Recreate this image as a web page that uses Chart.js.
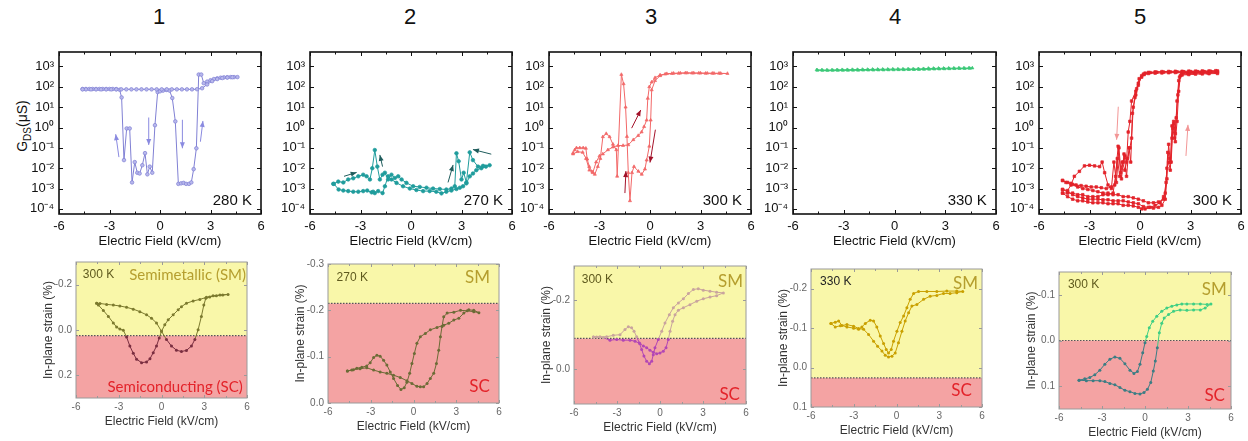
<!DOCTYPE html>
<html>
<head>
<meta charset="utf-8">
<script src="https://cdn.jsdelivr.net/npm/chart.js@4.4.1/dist/chart.umd.min.js"></script>
<style>
  body { margin: 0; background: #fff; }
  #wrap { position: relative; width: 1248px; height: 441px; overflow: hidden; font-family: 'Liberation Sans', Arial, sans-serif; }
  .num { position: absolute; top: 4px; width: 40px; margin-left: -20px; text-align: center; font-size: 22px; color: #111; }
  .ylab { position: absolute; left: -28px; top: 116px; width: 100px; height: 20px; line-height: 20px; text-align: center; font-size: 14px; color: #111; transform: rotate(-90deg); white-space: nowrap; }
  .ylab sub { font-size: 10px; }
  canvas { position: absolute; }
</style>
</head>
<body>
<div id="wrap">
  <div class="num" style="left:159px">1</div>
  <div class="num" style="left:410px">2</div>
  <div class="num" style="left:651px">3</div>
  <div class="num" style="left:895px">4</div>
  <div class="num" style="left:1140px">5</div>
  <div class="ylab">G<sub>DS</sub>(μS)</div>
</div>
<script>
Chart.defaults.font.family = "'Liberation Sans', Arial, sans-serif";

// ---- axes / labels ----
const xTicks = [-6, -3, 0, 3, 6];
const logTicks = [1e-4, 1e-3, 1e-2, 1e-1, 1, 10, 100, 1000];
const topTemps = ['280 K', '270 K', '300 K', '330 K', '300 K'];
const bottomTemps = ['300 K', '270 K', '300 K', '330 K', '300 K'];
const b1Ticks = [-0.2, 0, 0.2];
const b2Ticks = [-0.3, -0.2, -0.1, 0];
const b3Ticks = [-0.2, 0];
const b4Ticks = [-0.2, -0.1, 0, 0.1];
const b5Ticks = [-0.1, 0, 0.1];
const smScBoundary = [0.025, -0.215, -0.09, 0.026, 0];

// ---- G_DS (uS) vs electric field (kV/cm) ----
const g1 = [[-4.6,78],[-4.4,78],[-4.2,78],[-4.0,78],[-3.8,78],[-3.6,78],[-3.4,78],[-3.2,78],[-3.0,78],[-2.8,78],[-2.6,77],[-2.4,72],
  [-2.28,30],[-2.14,0.025],[-1.98,0.9],[-1.80,0.9],[-1.66,0.002],[-1.50,0.02],[-1.35,0.006],[-1.21,0.0055],[-1.05,0.014],[-0.89,0.055],
  [-0.75,0.005],[-0.61,0.012],[-0.46,0.006],[-0.30,1.3],[-0.14,55],[0.0,60],[0.18,65],[0.38,70],[0.57,65],[0.73,28],[0.91,2],
  [1.09,0.0017],[1.25,0.0018],[1.40,0.0019],[1.55,0.0017],[1.72,0.0017],[1.86,0.002],[2.0,0.009],[2.16,0.095],[2.30,400],[2.45,400],
  [2.6,150],[2.8,180],[3.0,210],[3.2,240],[3.4,260],[3.6,280],[3.8,290],[4.0,295],[4.2,300],[4.4,300],[4.6,300],
  [4.3,295],[4.0,285],[3.7,270],[3.4,240],[3.1,190],[2.8,130],[2.5,85],[2.2,76],[1.9,75],[1.6,75],[1.3,75],[1.0,75],[0.7,75],
  [0.4,75],[0.1,75],[-0.2,75],[-0.5,75],[-0.8,75],[-1.1,75],[-1.4,75],[-1.7,75],[-2.0,75],[-2.3,75],[-2.6,75],[-2.9,75],[-3.2,75],
  [-3.5,75],[-3.8,75],[-4.1,75],[-4.4,75],[-4.6,75]];
const g2 = [[-4.62,0.0017],[-4.32,0.0022],[-4.02,0.002],[-3.73,0.0028],[-3.43,0.0032],[-3.13,0.004],[-2.84,0.0048],[-2.64,0.004],
  [-2.44,0.0028],[-2.30,0.01],[-2.15,0.078],[-2.0,0.012],[-1.85,0.0028],[-1.69,0.0048],[-1.55,0.006],[-1.36,0.0028],[-1.16,0.0048],
  [-0.96,0.0033],[-0.76,0.004],[-0.56,0.0028],[-0.27,0.0019],[0.13,0.0013],[0.52,0.0012],[0.92,0.0011],[1.31,0.001],[1.71,0.00095],
  [2.1,0.0009],[2.4,0.001],[2.6,0.0013],[2.70,0.054],[2.83,0.022],[3.0,0.0028],[3.13,0.006],[3.29,0.002],[3.49,0.06],[3.68,0.025],
  [3.98,0.012],[4.28,0.013],[4.67,0.014],
  [4.45,0.012],[4.18,0.01],[3.88,0.008],[3.68,0.0055],[3.49,0.004],[3.29,0.0018],[3.09,0.0013],[2.9,0.0011],[2.70,0.00095],
  [2.4,0.0008],[2.10,0.0007],[1.81,0.00058],[1.5,0.0007],[1.11,0.00075],[0.72,0.00075],[0.32,0.00085],[-0.07,0.001],[-0.47,0.0013],
  [-0.86,0.0019],[-1.16,0.0028],[-1.36,0.004],[-1.55,0.0013],[-1.69,0.0006],[-1.95,0.00075],[-2.15,0.0006],[-2.25,0.0007],
  [-2.34,0.00065],[-2.6,0.0008],[-2.84,0.00075],[-3.13,0.0007],[-3.43,0.0007],[-3.73,0.00075],[-4.02,0.0008],[-4.3,0.0009],[-4.58,0.0017]];
const g3 = [[-4.57,0.056],[-4.47,0.08],[-4.37,0.1],[-4.17,0.1],[-3.97,0.1],[-3.81,0.095],[-3.73,0.028],[-3.61,0.012],[-3.42,0.0065],
  [-3.28,0.005],[-3.1,0.012],[-2.95,0.03],[-2.8,0.35],[-2.6,0.5],[-2.4,0.35],[-2.2,0.15],[-2.0,0.08],[-1.95,0.004],[-1.7,400],
  [-1.57,140],[-1.45,10],[-1.37,0.36],[-1.29,0.006],[-1.19,0.00025],[-1.07,0.006],[-0.95,0.012],[-0.69,0.007],[-0.49,0.005],
  [-0.3,0.009],[-0.2,0.025],[-0.04,0.12],[0.04,2.3],[0.1,70],[0.3,200],[0.6,350],[0.9,420],[1.3,450],[1.7,460],[2.1,480],[2.5,470],
  [2.9,470],[3.3,460],[3.7,460],[4.1,460],[4.6,450],
  [4.2,455],[3.8,460],[3.4,465],[3.0,470],[2.6,475],[2.2,480],[1.8,470],[1.4,460],[1.0,440],[0.6,380],[0.3,280],[0.1,170],
  [-0.04,100],[-0.13,27],[-0.2,2.3],[-0.35,1.1],[-0.5,0.6],[-0.7,0.4],[-0.99,0.25],[-1.29,0.14],[-1.6,0.13],[-1.9,0.13],[-2.2,0.11],
  [-2.5,0.08],[-2.8,0.05],[-3.0,0.04],[-3.2,0.02],[-3.4,0.006],[-3.6,0.008],[-3.8,0.03],[-4.0,0.06],[-4.3,0.065],[-4.57,0.05]];
const g4 = [[-4.6,680],[-4.3,670],[-4.0,660],[-3.7,670],[-3.4,680],[-3.1,690],[-2.8,690],[-2.5,700],[-2.2,700],[-1.9,710],[-1.6,710],
  [-1.3,720],[-1.0,720],[-0.7,730],[-0.4,730],[-0.1,740],[0.2,740],[0.5,740],[0.8,750],[1.1,750],[1.4,760],[1.7,770],[2.0,800],
  [2.3,800],[2.6,810],[2.9,810],[3.2,820],[3.5,820],[3.8,830],[4.1,830],[4.4,840],[4.6,840],
  [4.45,800],[4.15,790],[3.85,790],[3.55,780],[3.25,770],[2.95,760],[2.65,750],[2.35,740],[2.05,730],[1.75,720],[1.45,710],
  [1.15,700],[0.85,700],[0.55,690],[0.25,690],[-0.05,680],[-0.35,680],[-0.65,670],[-0.95,670],[-1.25,660],[-1.55,660],[-1.85,655],
  [-2.15,650],[-2.45,650],[-2.75,645],[-3.05,640],[-3.35,640],[-3.65,640],[-3.95,635],[-4.25,640],[-4.55,650]];
const g5a = [[-4.6,0.0025],[-4.3,0.002],[-4.0,0.0016],[-3.7,0.0012],[-3.4,0.001],[-3.1,0.0009],[-2.8,0.0008],[-2.5,0.0007],
  [-2.2,0.0006],[-1.9,0.0006],[-1.6,0.0005],[-1.3,0.0005],[-1.0,0.0004],[-0.7,0.0004],[-0.4,0.00035],[-0.1,0.0003],[0.2,0.00025],
  [0.5,0.0002],[0.8,0.0002],[1.1,0.00022],[1.4,0.0003],[1.55,0.002],[1.65,0.06],[1.75,0.03],[1.85,0.02],[1.95,0.9],[2.05,0.3],
  [2.15,3],[2.25,40],[2.35,300],[2.5,380],[2.9,400],[3.3,420],[3.7,430],[4.1,440],[4.6,450],
  [4.6,600],[4.2,580],[3.8,560],[3.4,560],[3.0,560],[2.6,550],[2.2,540],[1.8,540],[1.4,530],[1.0,520],[0.6,500],[0.3,470],[0.1,350],
  [-0.1,120],[-0.25,40],[-0.4,10],[-0.5,0.3],[-0.6,0.1],[-0.75,0.03],[-0.9,0.008],[-1.05,0.02],[-1.2,0.004],[-1.35,0.03],
  [-1.5,0.0015],[-1.7,0.0012],[-2.0,0.001],[-2.3,0.0011],[-2.6,0.0012],[-2.9,0.0012],[-3.2,0.0013],[-3.5,0.0014],[-3.8,0.0015],
  [-4.1,0.0018],[-4.4,0.002],[-4.6,0.0025]];
const g5b = [[-4.6,0.0009],[-4.3,0.0007],[-4.0,0.0005],[-3.7,0.0004],[-3.4,0.00035],[-3.1,0.0003],[-2.8,0.0003],[-2.5,0.0003],
  [-2.2,0.00028],[-1.9,0.00028],[-1.6,0.00025],[-1.3,0.00025],[-1.0,0.00025],[-0.7,0.00022],[-0.4,0.0002],[-0.1,0.00018],
  [0.2,0.00013],[0.5,0.00012],[0.8,0.00011],[1.1,0.00012],[1.3,0.00015],[1.5,0.0003],[1.6,0.003],[1.7,0.15],[1.8,0.02],[1.9,1.2],
  [2.0,2],[2.1,0.5],[2.2,20],[2.3,200],[2.45,400],[2.8,450],[3.2,470],[3.6,480],[4.0,490],[4.6,500],
  [4.5,620],[4.1,600],[3.7,600],[3.3,590],[2.9,590],[2.5,580],[2.1,580],[1.7,570],[1.3,560],[0.9,540],[0.5,510],[0.2,420],
  [-0.05,250],[-0.2,80],[-0.3,30],[-0.45,5],[-0.55,0.02],[-0.65,0.1],[-0.8,0.004],[-0.95,0.05],[-1.1,0.003],[-1.25,0.1],[-1.4,0.002],
  [-1.55,0.02],[-1.7,0.001],[-1.9,0.0015],[-2.1,0.006],[-2.25,0.02],[-2.4,0.012],[-2.7,0.013],[-3.0,0.014],[-3.3,0.013],[-3.6,0.007],
  [-3.9,0.004],[-4.1,0.0015],[-4.3,0.0008],[-4.6,0.0009]];
const g5c = [[-4.6,0.0006],[-4.3,0.0004],[-4.0,0.0003],[-3.7,0.00025],[-3.4,0.00025],[-3.1,0.00022],[-2.8,0.0002],[-2.5,0.0002],
  [-2.2,0.0002],[-1.9,0.00018],[-1.6,0.00018],[-1.3,0.00018],[-1.0,0.00015],[-0.7,0.00015],[-0.4,0.00014],[-0.1,0.00012],[0.1,0.0001],
  [0.3,0.0001],[0.6,0.00012],[0.9,0.00015],[1.2,0.0002],[1.4,0.0004],[1.5,0.0006],[1.6,0.01],[1.7,0.02],[1.8,0.008],[1.9,0.3],
  [2.0,1.5],[2.1,0.2],[2.2,2],[2.3,60],[2.4,350],[2.6,500],[3.0,520],[3.4,540],[3.8,540],[4.2,550],[4.6,560],
  [4.5,520],[4.1,520],[3.7,520],[3.3,520],[2.9,510],[2.5,500],[2.1,500],[1.7,490],[1.3,480],[0.9,470],[0.5,450],[0.25,400],[0.1,300],
  [-0.1,150],[-0.25,60],[-0.5,20],[-0.6,2],[-0.7,0.6],[-0.8,0.02],[-0.9,0.04],[-1.0,0.02],[-1.15,0.006],[-1.3,0.12],[-1.45,0.004],
  [-1.6,0.0006],[-1.9,0.0005],[-2.2,0.0005],[-2.5,0.0004],[-2.8,0.0004],[-3.1,0.0004],[-3.4,0.0005],[-3.7,0.0005],[-4.0,0.0006],
  [-4.3,0.0006],[-4.6,0.0006]];

// sweep arrows: [tail x, tail y, head x, head y]
const arrows1 = [[-2.44,0.035,-2.63,0.47],[-0.67,3.1,-0.67,0.14],[1.33,2.4,1.33,0.095],[2.40,0.2,2.55,2.1]];
const arrows2 = [[-3.98,0.004,-3.23,0.0062],[-1.69,0.012,-1.85,0.045],[2.2,0.002,2.5,0.0145],[4.77,0.049,3.68,0.083]];
const arrows3 = [[-1.09,0.93,-0.55,7.2],[0.32,0.78,0.0,0.019],[-1.49,0.0006,-1.43,0.0072]];
const arrows5 = [[-1.29,10.5,-1.39,0.25],[2.73,0.04,2.85,1.35]];

// ---- in-plane strain (%) vs electric field ----
const s1 = [[-4.55,-0.118],[-4.32,-0.117],[-3.85,-0.113],[-3.38,-0.110],[-2.92,-0.106],[-2.45,-0.100],[-1.98,-0.092],[-1.52,-0.081],
  [-1.05,-0.067],[-0.70,-0.052],[-0.35,-0.031],[0.0,0.006],[0.35,0.042],[0.70,0.071],[1.05,0.089],[1.40,0.095],[1.75,0.090],
  [2.10,0.071],[2.34,0.042],[2.57,-0.001],[2.80,-0.060],[2.97,-0.110],[3.11,-0.140],[3.38,-0.146],[3.85,-0.151],[4.3,-0.154],[4.67,-0.157],
  [4.1,-0.154],[3.62,-0.151],[3.15,-0.144],[2.69,-0.135],[2.22,-0.128],[1.75,-0.118],[1.40,-0.103],[1.17,-0.089],[0.82,-0.067],
  [0.47,-0.045],[0.23,-0.023],[0.0,0.006],[-0.16,0.035],[-0.35,0.071],[-0.58,0.100],[-0.81,0.127],[-1.05,0.141],[-1.40,0.144],
  [-1.75,0.129],[-1.98,0.103],[-2.22,0.071],[-2.45,0.031],[-2.68,0.001],[-2.92,-0.004],[-3.15,-0.013],[-3.38,-0.031],[-3.73,-0.060],
  [-4.08,-0.086],[-4.43,-0.110],[-4.55,-0.118]];
const s2 = [[-4.64,-0.069],[-4.22,-0.072],[-3.75,-0.074],[-3.28,-0.076],[-2.80,-0.071],[-2.34,-0.067],[-1.87,-0.064],[-1.40,-0.060],
  [-0.93,-0.055],[-0.46,-0.048],[-0.11,-0.042],[0.24,-0.036],[0.48,-0.035],[0.71,-0.035],[0.95,-0.042],[1.18,-0.053],[1.42,-0.064],
  [1.61,-0.085],[1.77,-0.114],[1.89,-0.143],[2.0,-0.165],[2.12,-0.186],[2.36,-0.194],[2.83,-0.196],[3.30,-0.200],[3.77,-0.199],
  [4.23,-0.197],[4.59,-0.195],
  [4.23,-0.200],[3.88,-0.201],[3.53,-0.194],[3.18,-0.183],[2.83,-0.179],[2.47,-0.172],[2.12,-0.168],[1.65,-0.163],[1.18,-0.158],
  [0.83,-0.150],[0.48,-0.143],[0.24,-0.129],[0.06,-0.107],[-0.11,-0.085],[-0.27,-0.064],[-0.46,-0.045],[-0.65,-0.033],[-0.88,-0.029],
  [-1.12,-0.038],[-1.40,-0.053],[-1.63,-0.067],[-1.87,-0.082],[-2.10,-0.092],[-2.34,-0.101],[-2.57,-0.103],[-2.80,-0.098],
  [-3.04,-0.087],[-3.28,-0.080],[-3.63,-0.077],[-3.98,-0.075],[-4.33,-0.071],[-4.64,-0.069]];
const s3 = [[-4.65,-0.094],[-4.19,-0.095],[-3.72,-0.095],[-3.26,-0.099],[-2.79,-0.101],[-2.44,-0.116],[-2.21,-0.124],[-1.98,-0.121],
  [-1.81,-0.111],[-1.63,-0.095],[-1.44,-0.077],[-1.28,-0.058],[-1.12,-0.039],[-0.93,-0.024],[-0.74,-0.017],[-0.58,-0.024],
  [-0.47,-0.043],[-0.35,-0.063],[-0.12,-0.087],[0.12,-0.111],[0.35,-0.135],[0.65,-0.159],[0.93,-0.179],[1.28,-0.193],[1.63,-0.205],
  [1.98,-0.220],[2.33,-0.232],[2.67,-0.234],[3.02,-0.230],[3.49,-0.227],[3.95,-0.224],[4.42,-0.222],
  [3.95,-0.214],[3.49,-0.210],[3.02,-0.205],[2.56,-0.198],[2.09,-0.188],[1.63,-0.179],[1.28,-0.172],[1.05,-0.159],[0.88,-0.140],
  [0.70,-0.111],[0.58,-0.087],[0.42,-0.063],[0.23,-0.053],[0.0,-0.048],[-0.23,-0.046],[-0.47,-0.050],[-0.70,-0.056],[-0.93,-0.063],
  [-1.16,-0.068],[-1.40,-0.075],[-1.74,-0.082],[-2.09,-0.085],[-2.56,-0.085],[-3.02,-0.087],[-3.49,-0.085],[-3.95,-0.092],
  [-4.42,-0.094],[-4.65,-0.094]];
const s4 = [[-4.6,-0.112],[-4.3,-0.115],[-4.06,-0.118],[-3.83,-0.107],[-3.48,-0.103],[-3.01,-0.100],[-2.66,-0.097],[-2.43,-0.103],
  [-2.19,-0.112],[-1.84,-0.120],[-1.61,-0.118],[-1.38,-0.103],[-1.14,-0.080],[-0.91,-0.061],[-0.72,-0.046],[-0.56,-0.037],
  [-0.37,-0.046],[-0.21,-0.067],[0.03,-0.092],[0.26,-0.114],[0.50,-0.131],[0.73,-0.152],[0.96,-0.173],[1.20,-0.188],[1.55,-0.193],
  [2.13,-0.193],[2.83,-0.193],[3.53,-0.194],[4.23,-0.194],[4.65,-0.193],
  [4.23,-0.190],[3.76,-0.188],[3.30,-0.188],[2.83,-0.183],[2.36,-0.181],[1.90,-0.173],[1.43,-0.160],[1.08,-0.156],[0.85,-0.139],
  [0.61,-0.118],[0.38,-0.092],[0.14,-0.063],[-0.09,-0.037],[-0.32,-0.029],[-0.56,-0.027],[-0.79,-0.031],[-1.02,-0.042],
  [-1.33,-0.054],[-1.61,-0.067],[-1.96,-0.084],[-2.31,-0.097],[-2.66,-0.099],[-3.01,-0.105],[-3.48,-0.109],[-3.94,-0.106],
  [-4.3,-0.103],[-4.6,-0.112]];
const s5 = [[-4.6,0.087],[-4.2,0.084],[-3.85,0.081],[-3.5,0.075],[-3.15,0.065],[-2.8,0.052],[-2.45,0.041],[-2.1,0.036],[-1.75,0.039],
  [-1.4,0.051],[-1.05,0.065],[-0.77,0.072],[-0.53,0.068],[-0.35,0.052],[-0.16,0.027],[0.0,0.005],[0.12,-0.009],[0.30,-0.028],
  [0.54,-0.042],[0.82,-0.053],[1.17,-0.064],[1.52,-0.071],[1.87,-0.075],[2.22,-0.078],[2.57,-0.080],[2.92,-0.080],[3.39,-0.080],
  [3.86,-0.080],[4.33,-0.079],[4.6,-0.080],
  [4.2,-0.071],[3.86,-0.067],[3.39,-0.067],[2.92,-0.066],[2.45,-0.067],[1.99,-0.064],[1.64,-0.057],[1.34,-0.049],[1.17,-0.038],
  [1.0,-0.017],[0.86,0.016],[0.72,0.045],[0.58,0.067],[0.40,0.092],[0.17,0.107],[-0.07,0.114],[-0.35,0.117],[-0.70,0.116],
  [-1.05,0.112],[-1.40,0.109],[-1.75,0.103],[-2.10,0.097],[-2.45,0.094],[-2.80,0.090],[-3.15,0.088],[-3.62,0.088],[-4.09,0.088],[-4.6,0.087]];

// ---- helpers ----
const wrap = document.getElementById('wrap');
const pts = a => a.map(([x, y]) => ({ x, y }));
const SUP = { '-': '⁻', '0': '⁰', '1': '¹', '2': '²', '3': '³', '4': '⁴' };
function powLabel(v) {
  const e = Math.round(Math.log10(v));
  return '10' + String(e).split('').map(c => SUP[c]).join('');
}
function fixedLabel(v) {
  return Math.abs(v) < 1e-9 ? '0.0' : v.toFixed(1);
}

function makeCanvas(box, padL, padT, padR, padB) {
  const c = document.createElement('canvas');
  const w = box[2] - box[0] + padL + padR;
  const h = box[3] - box[1] + padT + padB;
  c.width = w; c.height = h;
  c.style.left = (box[0] - padL) + 'px';
  c.style.top = (box[1] - padT) + 'px';
  c.style.width = w + 'px';
  c.style.height = h + 'px';
  wrap.appendChild(c);
  return c;
}

// frame with inward ticks on all four sides
const framePlugin = {
  id: 'frame',
  afterDatasetsDraw(chart, args, o) {
    const { ctx, chartArea: a, scales: { x, y } } = chart;
    ctx.save();
    ctx.strokeStyle = o.color;
    ctx.lineWidth = o.width;
    ctx.strokeRect(a.left, a.top, a.width, a.height);
    ctx.lineWidth = 1;
    ctx.beginPath();
    for (let v = -6; v <= 6; v += 1.5) {
      const px = Math.round(x.getPixelForValue(v)) + 0.5;
      const len = v % 3 === 0 ? o.major : o.minor;
      ctx.moveTo(px, a.bottom); ctx.lineTo(px, a.bottom - len);
      ctx.moveTo(px, a.top); ctx.lineTo(px, a.top + len);
    }
    y.ticks.forEach(t => {
      const py = Math.round(y.getPixelForValue(t.value)) + 0.5;
      ctx.moveTo(a.left, py); ctx.lineTo(a.left + o.major, py);
      ctx.moveTo(a.right, py); ctx.lineTo(a.right - o.major, py);
    });
    ctx.stroke();
    ctx.restore();
  }
};

// text notes placed as fractions of the plot area
const notesPlugin = {
  id: 'notes',
  afterDatasetsDraw(chart, args, o) {
    const { ctx, chartArea: a } = chart;
    (o.list || []).forEach(n => {
      ctx.save();
      ctx.font = n.size + 'px ' + (n.family || "'Liberation Sans', Arial, sans-serif");
      ctx.fillStyle = n.color;
      ctx.textAlign = n.align;
      ctx.textBaseline = 'middle';
      ctx.fillText(n.text, a.left + n.fx * a.width, a.top + n.fy * a.height);
      ctx.restore();
    });
  }
};

// sweep-direction arrows in data coordinates
const arrowPlugin = {
  id: 'arrows',
  afterDatasetsDraw(chart, args, o) {
    if (!o.list) return;
    const { ctx, scales: { x, y } } = chart;
    ctx.save();
    ctx.strokeStyle = ctx.fillStyle = o.color;
    ctx.lineWidth = 1;
    o.list.forEach(a => {
      const x1 = x.getPixelForValue(a[0]), y1 = y.getPixelForValue(a[1]);
      const x2 = x.getPixelForValue(a[2]), y2 = y.getPixelForValue(a[3]);
      const ang = Math.atan2(y2 - y1, x2 - x1);
      ctx.beginPath(); ctx.moveTo(x1, y1); ctx.lineTo(x2, y2); ctx.stroke();
      ctx.beginPath();
      ctx.moveTo(x2, y2);
      ctx.lineTo(x2 - 6 * Math.cos(ang) + 2.5 * Math.sin(ang), y2 - 6 * Math.sin(ang) - 2.5 * Math.cos(ang));
      ctx.lineTo(x2 - 6 * Math.cos(ang) - 2.5 * Math.sin(ang), y2 - 6 * Math.sin(ang) + 2.5 * Math.cos(ang));
      ctx.closePath(); ctx.fill();
    });
    ctx.restore();
  }
};

// yellow (SM) / red (SC) background bands split by a dotted line
const bandPlugin = {
  id: 'bands',
  beforeDatasetsDraw(chart, args, o) {
    const { ctx, chartArea: a, scales: { y } } = chart;
    const yb = y.getPixelForValue(o.at);
    ctx.save();
    ctx.fillStyle = '#f9f7a9';
    ctx.fillRect(a.left, a.top, a.width, yb - a.top);
    ctx.fillStyle = '#f4a3a3';
    ctx.fillRect(a.left, yb, a.width, a.bottom - yb);
    ctx.strokeStyle = '#555';
    ctx.lineWidth = 1.2;
    ctx.setLineDash([1.5, 1.5]);
    ctx.beginPath(); ctx.moveTo(a.left, yb); ctx.lineTo(a.right, yb); ctx.stroke();
    ctx.restore();
  }
};

// ---- top row: conductance ----
const topPanels = [
  { box: [59, 52, 261, 214], series: [g1], arrows: arrows1, arrowColor: '#8a8ae0', color: '#8080d4', fill: '#b8b8ec', point: 'circle' },
  { box: [310, 52, 512, 214], series: [g2], arrows: arrows2, arrowColor: '#1f5c5c', color: '#1f9c9c', fill: '#1f9c9c', point: 'circle' },
  { box: [549, 52, 751, 214], series: [g3], arrows: arrows3, arrowColor: '#a3122a', color: '#f26868', fill: '#f26868', point: 'triangle' },
  { box: [793, 52, 996, 214], series: [g4], arrows: null, arrowColor: '#000', color: '#3cc878', fill: '#3cc878', point: 'triangle' },
  { box: [1039, 52, 1241, 214], series: [g5a, g5b, g5c], arrows: arrows5, arrowColor: '#f29696', color: '#e3232a', fill: '#e3232a', point: 'rect' }
];

topPanels.forEach((p, i) => {
  const padL = 40, padT = 16, padR = 14, padB = 36;
  const canvas = makeCanvas(p.box, padL, padT, padR, padB);
  new Chart(canvas, {
    type: 'scatter',
    data: {
      datasets: p.series.map(s => ({
        data: pts(s),
        showLine: true,
        borderColor: p.color,
        borderWidth: 1,
        pointStyle: p.point,
        pointRadius: 1.8,
        pointBackgroundColor: p.fill,
        pointBorderColor: p.color,
        pointBorderWidth: 0.7
      }))
    },
    options: {
      responsive: false,
      animation: false,
      layout: { padding: { left: 0, top: padT, right: padR, bottom: 0 } },
      plugins: {
        legend: { display: false },
        tooltip: { enabled: false },
        frame: { color: '#111', width: 1.6, major: 4, minor: 2.5 },
        notes: { list: [{ text: topTemps[i], fx: 0.955, fy: 0.92, align: 'right', color: '#111', size: 15 }] },
        arrows: { list: p.arrows, color: p.arrowColor }
      },
      scales: {
        x: {
          type: 'linear', min: -6, max: 6,
          afterBuildTicks: s => { s.ticks = xTicks.map(v => ({ value: v })); },
          afterFit: s => { s.height = padB; },
          grid: { display: false, drawTicks: false },
          border: { display: false },
          ticks: { padding: 5, color: '#111', font: { size: 13 } },
          title: { display: true, text: 'Electric Field (kV/cm)', color: '#111', font: { size: 13 }, padding: { top: 0, bottom: 1 } }
        },
        y: {
          type: 'logarithmic', min: Math.pow(10, -4.25), max: Math.pow(10, 3.71),
          afterBuildTicks: s => { s.ticks = logTicks.map(v => ({ value: v })); },
          afterFit: s => { s.width = padL; },
          grid: { display: false, drawTicks: false },
          border: { display: false },
          ticks: { padding: 5, color: '#111', font: { size: 13 }, callback: v => powLabel(v) }
        }
      }
    },
    plugins: [framePlugin, notesPlugin, arrowPlugin]
  });
});

// ---- bottom row: strain ----
const smColor = '#b59e2e', scColor = '#e3232a', tempColor = '#5f5a1e';
const bottomPanels = [
  { box: [76, 262, 247, 398], min: -0.3, max: 0.3, ticks: b1Ticks, series: s1, sm: '#7c7a2e', sc: '#7a2e40',
    notes: [{ text: bottomTemps[0], fx: 0.04, fy: 0.096, align: 'left', color: tempColor, size: 12 },
            { text: 'Semimetallic (SM)', fx: 0.994, fy: 0.10, align: 'right', color: smColor, size: 15, family: 'Lato, sans-serif' },
            { text: 'Semiconducting (SC)', fx: 0.975, fy: 0.92, align: 'right', color: scColor, size: 15, family: 'Lato, sans-serif' }] },
  { box: [328, 264, 499, 403], min: -0.3, max: 0, ticks: b2Ticks, series: s2, sm: '#6c6b36', sc: '#6c6b36',
    notes: [{ text: bottomTemps[1], fx: 0.05, fy: 0.097, align: 'left', color: tempColor, size: 12 },
            { text: 'SM', fx: 0.947, fy: 0.10, align: 'right', color: smColor, size: 17, family: 'Lato, sans-serif' },
            { text: 'SC', fx: 0.947, fy: 0.883, align: 'right', color: scColor, size: 17, family: 'Lato, sans-serif' }] },
  { box: [574, 266, 746, 404], min: -0.3, max: 0.1, ticks: b3Ticks, series: s3, sm: '#c9a49e', sc: '#b246b5',
    notes: [{ text: bottomTemps[2], fx: 0.045, fy: 0.096, align: 'left', color: tempColor, size: 12 },
            { text: 'SM', fx: 0.983, fy: 0.114, align: 'right', color: smColor, size: 17, family: 'Lato, sans-serif' },
            { text: 'SC', fx: 0.965, fy: 0.928, align: 'right', color: scColor, size: 17, family: 'Lato, sans-serif' }] },
  { box: [811, 269, 982, 407], min: -0.25, max: 0.1, ticks: b4Ticks, series: s4, sm: '#c9a000', sc: '#c9a000',
    notes: [{ text: bottomTemps[3], fx: 0.053, fy: 0.092, align: 'left', color: '#222', size: 12 },
            { text: 'SM', fx: 0.977, fy: 0.104, align: 'right', color: smColor, size: 17, family: 'Lato, sans-serif' },
            { text: 'SC', fx: 0.94, fy: 0.877, align: 'right', color: scColor, size: 17, family: 'Lato, sans-serif' }] },
  { box: [1059, 272, 1231, 409], min: -0.15, max: 0.15, ticks: b5Ticks, series: s5, sm: '#3ecf84', sc: '#3b7d84',
    notes: [{ text: bottomTemps[4], fx: 0.052, fy: 0.09, align: 'left', color: tempColor, size: 12 },
            { text: 'SM', fx: 0.975, fy: 0.126, align: 'right', color: smColor, size: 17, family: 'Lato, sans-serif' },
            { text: 'SC', fx: 0.965, fy: 0.898, align: 'right', color: scColor, size: 17, family: 'Lato, sans-serif' }] }
];

bottomPanels.forEach((p, i) => {
  const padL = 38, padT = 12, padR = 12, padB = 33;
  const at = smScBoundary[i];
  const canvas = makeCanvas(p.box, padL, padT, padR, padB);
  const pick = v => (v > at ? p.sc : p.sm);
  new Chart(canvas, {
    type: 'scatter',
    data: {
      datasets: [{
        data: pts(p.series),
        showLine: true,
        borderWidth: 1,
        pointRadius: 1.5,
        pointBorderWidth: 0,
        pointBackgroundColor: c => pick(c.raw ? c.raw.y : 0),
        borderColor: p.sm,
        segment: { borderColor: c => pick((c.p0.parsed.y + c.p1.parsed.y) / 2) }
      }]
    },
    options: {
      responsive: false,
      animation: false,
      layout: { padding: { left: 0, top: padT, right: padR, bottom: 0 } },
      plugins: {
        legend: { display: false },
        tooltip: { enabled: false },
        bands: { at },
        frame: { color: '#9a9a9a', width: 1, major: 3, minor: 2 },
        notes: { list: p.notes }
      },
      scales: {
        x: {
          type: 'linear', min: -6, max: 6,
          afterBuildTicks: s => { s.ticks = xTicks.map(v => ({ value: v })); },
          afterFit: s => { s.height = padB; },
          grid: { display: false, drawTicks: false },
          border: { display: false },
          ticks: { padding: 3, color: '#666', font: { size: 10 } },
          title: { display: true, text: 'Electric Field (kV/cm)', color: '#333', font: { size: 12 }, padding: { top: 0, bottom: 2 } }
        },
        y: {
          type: 'linear', min: p.min, max: p.max, reverse: true,
          afterBuildTicks: s => { s.ticks = p.ticks.map(v => ({ value: v })); },
          afterFit: s => { s.width = padL; },
          grid: { display: false, drawTicks: false },
          border: { display: false },
          ticks: { padding: 4, color: '#666', font: { size: 10 }, callback: v => fixedLabel(v) },
          title: { display: true, text: 'In-plane strain (%)', color: '#333', font: { size: 12 }, padding: { top: 3, bottom: 0 } }
        }
      }
    },
    plugins: [bandPlugin, framePlugin, notesPlugin]
  });
});
</script>
</body>
</html>
